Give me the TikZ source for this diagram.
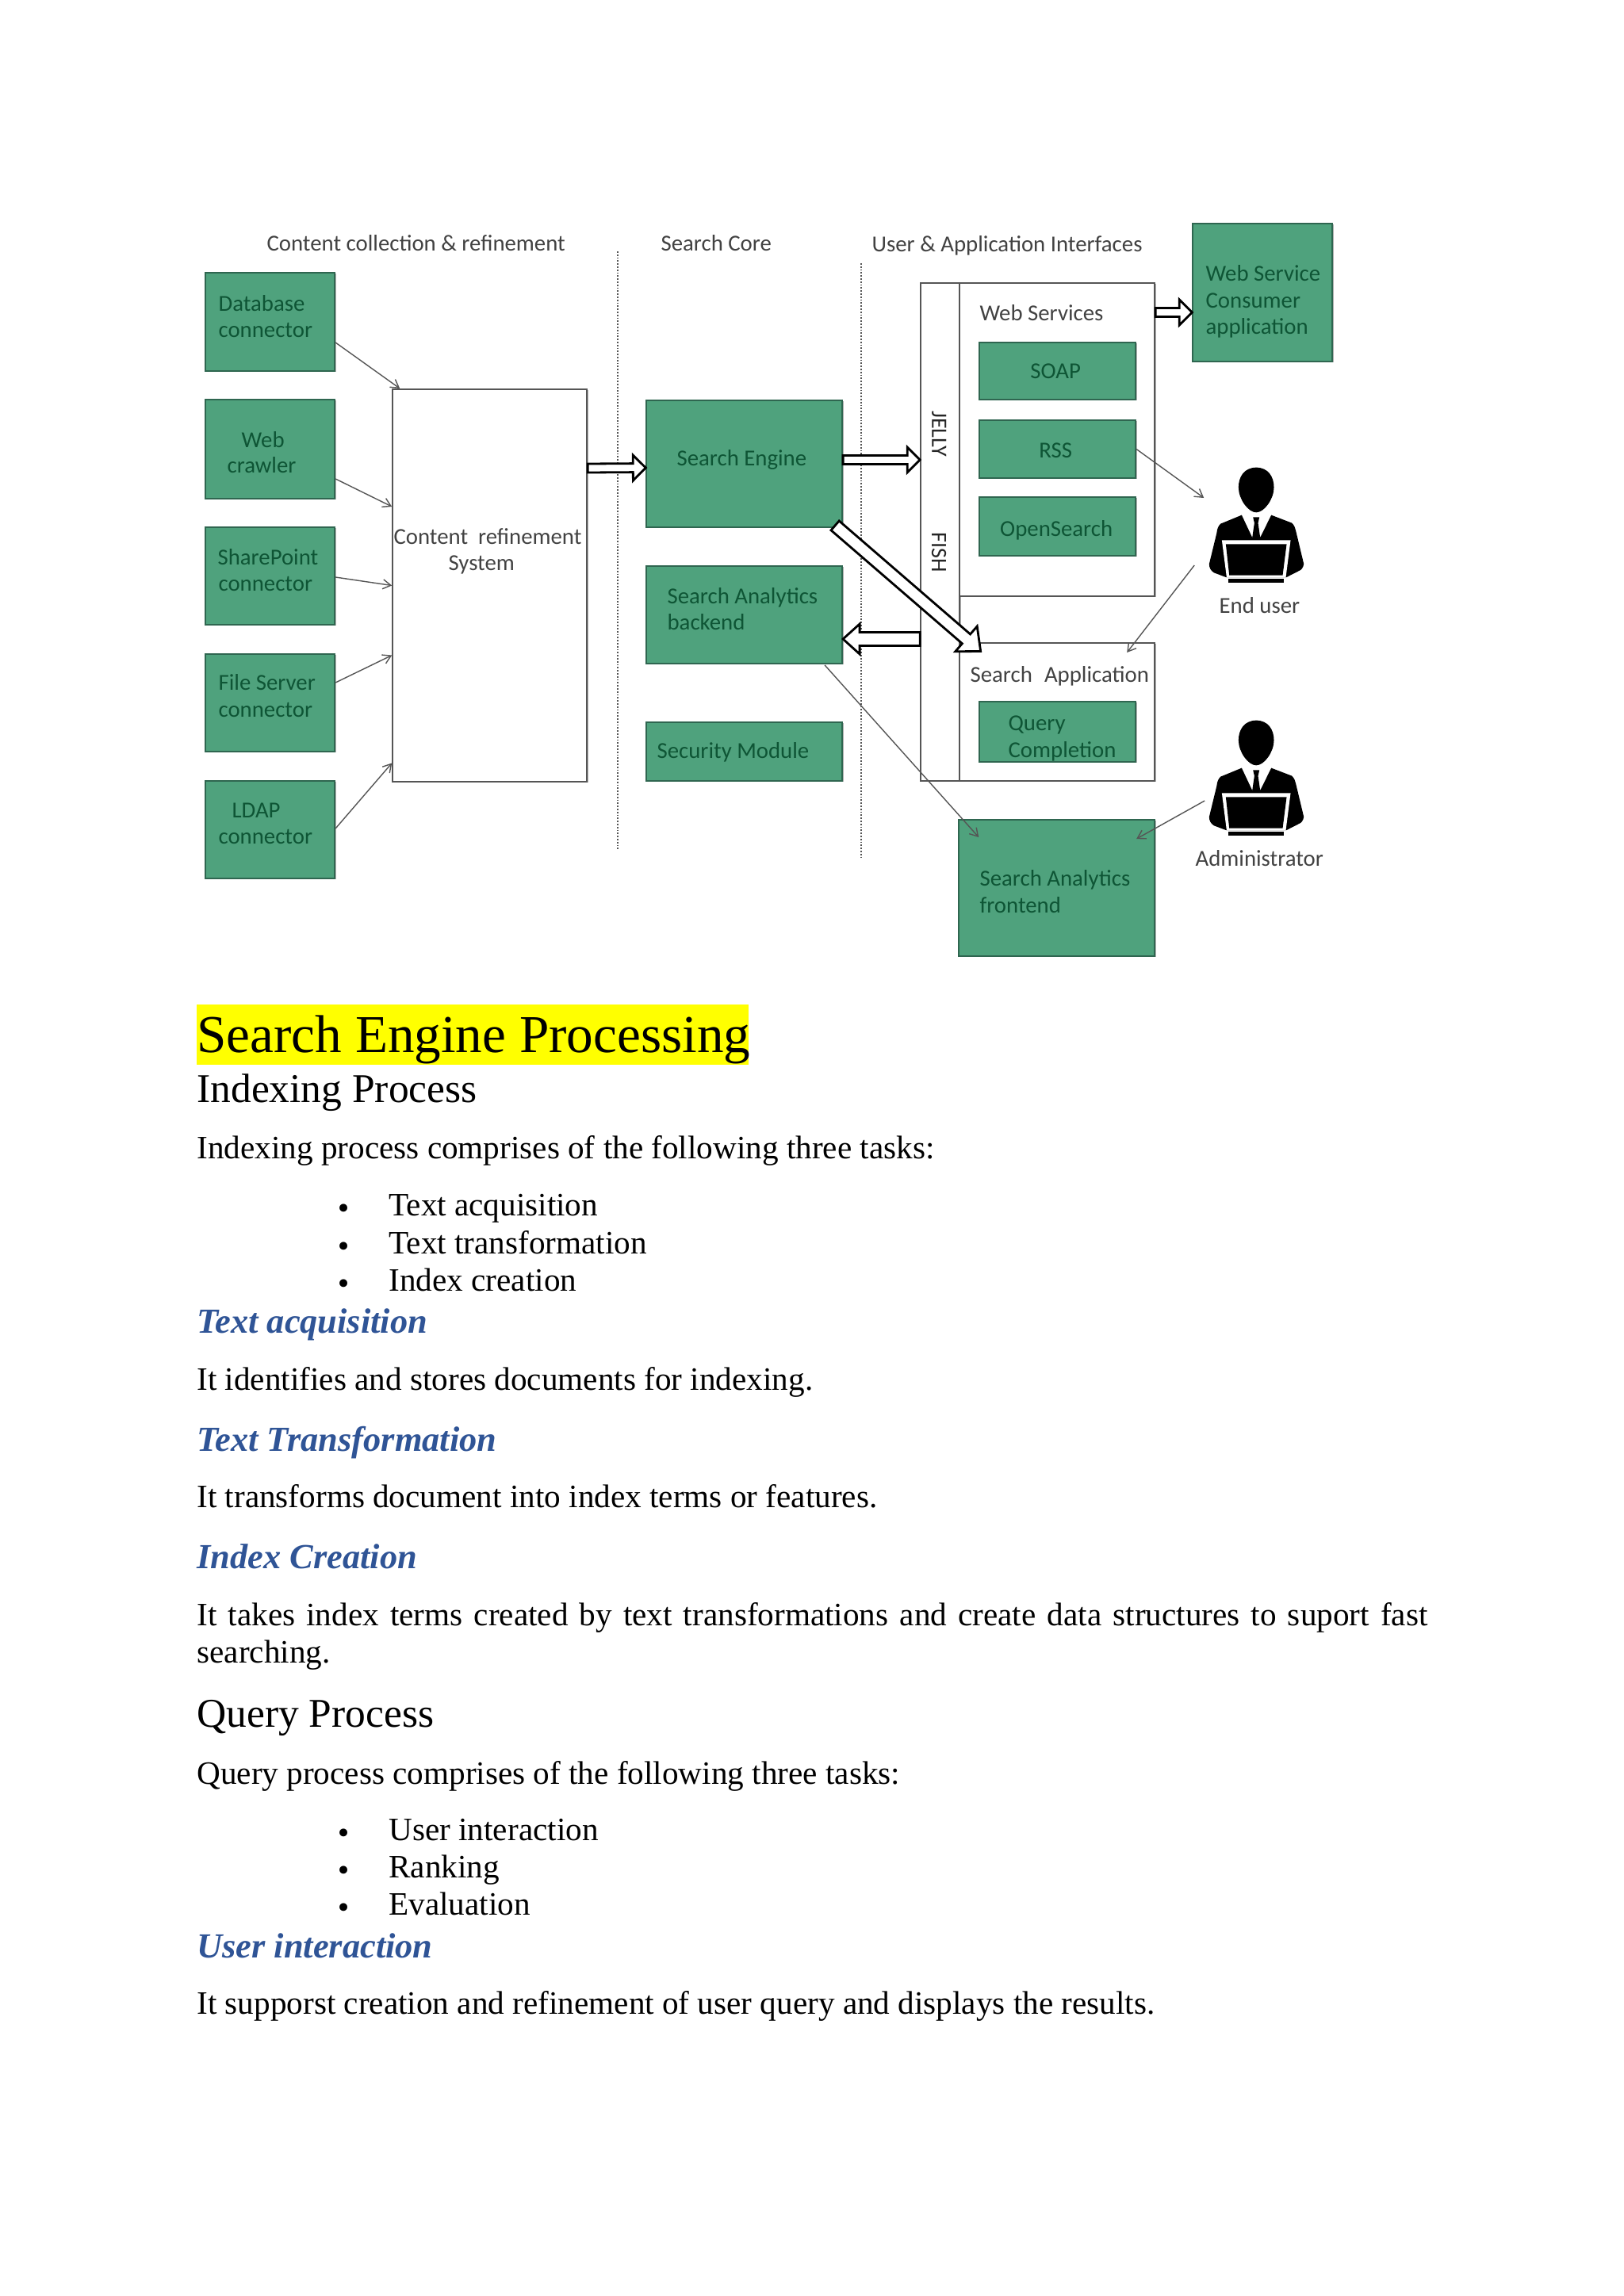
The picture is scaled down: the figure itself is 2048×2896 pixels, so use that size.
\documentclass[tikz,border=0pt]{standalone}
\usepackage{fontspec}
\setmainfont{Liberation Serif}
\newfontfamily\diagfont{Carlito}
\newfontfamily\dotfont{DejaVu Sans}
\usetikzlibrary{arrows.meta,calc,fit,shadows}
\definecolor{boxgreen}{HTML}{4FA27D}
\definecolor{boxedge}{HTML}{2F6650}
\definecolor{inktxt}{HTML}{0E5535}
\definecolor{graytxt}{HTML}{424242}
\definecolor{linegray}{HTML}{555555}
\definecolor{headblue}{HTML}{2F5496}
\definecolor{markyellow}{HTML}{FFFF00}
\tikzset{
  softshade/.style={drop shadow={shadow xshift=0.7pt,shadow yshift=-0.7pt,fill=black,opacity=0.3}},
  greenbox/.style={fill=boxgreen,draw=boxedge,line width=0.9pt,inner sep=0pt,softshade},
  whitebox/.style={fill=white,draw=linegray,line width=1pt,inner sep=0pt,softshade},
  dtxt/.style={anchor=base west,inner sep=0pt,xshift=-0.5pt,font=\diagfont\fontsize{14.4}{16}\selectfont,text=inktxt},
  ltxt/.style={anchor=base west,inner sep=0pt,xshift=-0.5pt,font=\diagfont\fontsize{14.4}{16}\selectfont,text=graytxt},
  ctxt/.style={dtxt,anchor=base},
  vtxt/.style={anchor=center,inner sep=0pt,rotate=-90,font=\diagfont\fontsize{14}{16}\selectfont,text=black!85},
  thin arrow/.style={draw=linegray,line width=0.7pt,-{Straight Barb[length=5pt,width=6pt]}},
  divider/.style={draw=linegray,line width=0.9pt,densely dotted},
  body/.style={anchor=base west,inner sep=0pt,font=\fontsize{20.6}{23.7}\selectfont},
  bulletmark/.style={anchor=base,inner sep=0pt,font=\dotfont\fontsize{17}{19}\selectfont},
  sub/.style={anchor=base west,inner sep=0pt,font=\fontsize{25.75}{30}\selectfont},
  bluehead/.style={anchor=base west,inner sep=0pt,font=\bfseries\itshape\fontsize{22.2}{26}\selectfont,text=headblue},
}
\newcommand{\boxat}[6]{\node[#1,fit={(#3,#4)(#5,#6)}] (#2) {};}
\newcommand{\hollowarrow}[5]{%
  \draw[fill=white,draw=black,line width=1.4pt,line join=miter]
    let \p1=(#1),\p2=(#2),\p3=($(\p2)-(\p1)$),\n1={atan2(\y3,\x3)},\n2={veclen(\x3,\y3)} in
    [shift={(\p1)},rotate=\n1]
    (0pt,#3) -- ({\n2-#5},#3) -- ({\n2-#5},#4) -- (\n2,0pt) -- ({\n2-#5},-#4) -- ({\n2-#5},-#3) -- (0pt,-#3) -- cycle;}
\newcommand{\personicon}[3]{%
  \coordinate (#1) at (#2,#3);
  \begin{scope}[shift={(#1)},xshift=-66.67pt,yshift=19.17pt,x=0.16667pt,y=-0.16667pt]
    \fill[black] (400,30) .. controls (445,30) and (467,65) .. (467,105) .. controls (467,150) and (430,200) .. (400,200) .. controls (370,200) and (333,150) .. (333,105) .. controls (333,65) and (355,30) .. (400,30) -- cycle;
    \fill[black] (345,210) -- (385,295) -- (393,240) -- (388,218) -- (412,218) -- (407,240) -- (415,295) -- (457,210) -- (535,240) .. controls (545,250) and (548,260) .. (550,270) -- (580,395) .. controls (578,410) and (570,418) .. (560,422) -- (515,445) -- (285,445) -- (240,428) .. controls (228,420) and (222,410) .. (222,395) -- (250,280) .. controls (252,260) and (258,250) .. (265,243) -- cycle;
    \fill[white] (270,305) -- (530,305) -- (512,445) -- (288,445) -- cycle;
    \fill[black] (285,320) -- (515,320) -- (500,438) -- (298,438) -- cycle;
    \fill[black] (295,450) -- (505,450) -- (505,465) -- (295,465) -- cycle;
  \end{scope}}
\begin{document}
\begin{tikzpicture}[x=0.5pt,y=-0.5pt]
\useasboundingbox (0,0) rectangle (2048,2896);
\fill[white] (0,0) rectangle (2048,2896);

\begin{scope}[xshift=0.6pt]
% dividers
\coordinate (d1a) at (778,317); \coordinate (d1b) at (778,1071);
\coordinate (d2a) at (1085,332); \coordinate (d2b) at (1085,1082);
\draw[divider] (d1a) -- (d1b);
\draw[divider] (d2a) -- (d2b);

% column headings
\node[ltxt] (h1) at (336,316) {Content collection \& refinement};
\node[ltxt] (h2) at (833,316) {Search Core};
\node[ltxt] (h3) at (1099,317) {User \& Application Interfaces};

% left sources
\boxat{greenbox}{db}{258}{344}{421}{468}
\boxat{greenbox}{web}{258}{504}{421}{629}
\boxat{greenbox}{sp}{258}{665}{421}{788}
\boxat{greenbox}{fs}{258}{825}{421}{948}
\boxat{greenbox}{ldap}{258}{985}{421}{1108}
\boxat{whitebox}{cr}{494}{491}{739}{986}

\node[dtxt] (tdb1) at (275,392) {Database};
\node[dtxt] (tdb2) at (275,425) {connector};
\node[dtxt] (tw1) at (304,564) {Web};
\node[dtxt] (tw2) at (286,596) {crawler};
\node[dtxt] (tsp1) at (274,712) {SharePoint};
\node[dtxt] (tsp2) at (275,745) {connector};
\node[dtxt] (tfs1) at (275,870) {File Server};
\node[dtxt] (tfs2) at (275,904) {connector};
\node[dtxt] (tl1) at (292,1031) {LDAP};
\node[dtxt] (tl2) at (275,1064) {connector};
\node[ltxt] (tcr1) at (496,686) {Content\hspace{0.45em}refinement};
\node[ltxt] (tcr2) at (565,719) {System};

% search core
\boxat{greenbox}{se}{814}{505}{1061}{665}
\boxat{greenbox}{ba}{814}{714}{1061}{837}
\boxat{greenbox}{sec}{814}{911}{1061}{985}
\node[dtxt] (tse) at (853,587) {Search Engine};
\node[dtxt] (tba1) at (841,761) {Search Analytics};
\node[dtxt] (tba2) at (841,794) {backend};
\node[dtxt] (tsec) at (828,956) {Security Module};

% interfaces
\boxat{whitebox}{col}{1160}{357}{1209}{985}
\boxat{whitebox}{ws}{1209}{357}{1455}{752}
\boxat{whitebox}{sa}{1209}{811}{1455}{985}
\boxat{greenbox}{soap}{1234}{432}{1431}{504}
\boxat{greenbox}{rss}{1234}{530}{1431}{603}
\boxat{greenbox}{os}{1234}{627}{1431}{701}
\boxat{greenbox}{qc}{1234}{885}{1431}{961}
\boxat{greenbox}{wsc}{1503}{282}{1679}{456}
\boxat{greenbox}{fe}{1208}{1034}{1455}{1206}
\node[ltxt] (tws) at (1235,404) {Web Services};
\node[ctxt] (tsoap) at (1331,477) {SOAP};
\node[ctxt] (trss) at (1331,577) {RSS};
\node[ctxt] (tos) at (1332,676) {OpenSearch};
\node[vtxt] (tj) at (1183,547) {JELLY};
\node[vtxt] (tf) at (1183,697) {FISH};
\node[ltxt] (tsa) at (1223,860) {Search\hspace{0.3em} Application};
\node[dtxt] (tq1) at (1271,921) {Query};
\node[dtxt] (tq2) at (1271,955) {Completion};
\node[dtxt] (twc1) at (1520,354) {Web Service};
\node[dtxt] (twc2) at (1520,388) {Consumer};
\node[dtxt] (twc3) at (1520,421) {application};
\node[dtxt] (tfe1) at (1235,1117) {Search Analytics};
\node[dtxt] (tfe2) at (1235,1151) {frontend};

% people
\personicon{enduser}{1583}{618}
\personicon{admin}{1583}{937}
\node[ltxt] (teu) at (1537,773) {End user};
\node[ltxt] (tad) at (1507,1092) {Administrator};

% thin connectors
\draw[thin arrow] ([yshift=-13pt]db.east) -- ([xshift=5pt]cr.north west);
\draw[thin arrow] ([yshift=-18.75pt]web.east) -- ([yshift=49.75pt]cr.west);
\draw[thin arrow] ([yshift=-0.75pt]sp.east) -- (cr.west);
\draw[thin arrow] ([yshift=12.75pt]fs.east) -- ([yshift=-44pt]cr.west);
\draw[thin arrow] ([yshift=0.75pt]ldap.east) -- ([yshift=-112pt]cr.west);
\draw[thin arrow] (rss.east) -- ([xshift=-33pt,yshift=-5pt]enduser);
\draw[thin arrow] ([xshift=-39pt,yshift=-47.5pt]enduser) -- ([xshift=-18pt,yshift=-6.5pt]sa.north east);
\draw[thin arrow] ([xshift=-11.5pt,yshift=-0.5pt]ba.south east) -- ([xshift=13pt,yshift=-11.5pt]fe.north west);
\draw[thin arrow] ([xshift=-32.5pt,yshift=-36.5pt]admin) -- ([xshift=-12pt,yshift=-12.5pt]fe.north east);

% hollow connectors
\hollowarrow{[yshift=74pt]cr.east}{[yshift=-2.5pt]se.west}{2.75pt}{8pt}{8pt}
\hollowarrow{[yshift=2.5pt]se.east}{[yshift=45.5pt]col.west}{2.75pt}{8pt}{8pt}
\hollowarrow{[yshift=-67.5pt]col.west}{[yshift=-15.25pt]ba.east}{4.25pt}{9.5pt}{10.5pt}
\hollowarrow{[yshift=80.25pt]ws.east}{[yshift=-12.5pt]wsc.west}{2.75pt}{8pt}{8pt}
\hollowarrow{[xshift=-5pt,yshift=1.5pt]se.south east}{[xshift=14pt,yshift=-6pt]sa.north west}{3.9pt}{10.5pt}{12pt}
\end{scope}

% document text
\fill[markyellow] (248,1267) rectangle (944,1343);
\node[anchor=base west,inner sep=0pt,font=\fontsize{33.6}{38}\selectfont] (title) at (248,1327) {Search Engine Processing};
\node[sub] (ip) at (248,1390) {Indexing Process};
\node[body] (ip1) at (248,1461) {Indexing process comprises of the following three tasks:};
\node[bulletmark] (b1) at (434,1536) {•};
\node[bulletmark] (b2) at (434,1584) {•};
\node[bulletmark] (b3) at (434,1631) {•};
\node[body] (l1) at (490,1533) {Text acquisition};
\node[body] (l2) at (490,1581) {Text transformation};
\node[body] (l3) at (490,1628) {Index creation};
\node[bluehead] (bh1) at (248,1681) {Text acquisition};
\node[body] (p1) at (248,1753) {It identifies and stores documents for indexing.};
\node[bluehead] (bh2) at (248,1830) {Text Transformation};
\node[body] (p2) at (248,1901) {It transforms document into index terms or features.};
\node[bluehead] (bh3) at (248,1978) {Index Creation};
\node[body,text width=776pt,align=justify] (p3) at (248,2050) {It takes index terms created by text transformations and create data structures to suport fast searching.};
\node[sub] (qp) at (248,2178) {Query Process};
\node[body] (qp1) at (248,2250) {Query process comprises of the following three tasks:};
\node[bulletmark] (b4) at (434,2324) {•};
\node[bulletmark] (b5) at (434,2371) {•};
\node[bulletmark] (b6) at (434,2418) {•};
\node[body] (l4) at (490,2321) {User interaction};
\node[body] (l5) at (490,2368) {Ranking};
\node[body] (l6) at (490,2415) {Evaluation};
\node[bluehead] (bh4) at (248,2469) {User interaction};
\node[body] (p4) at (248,2540) {It supporst creation and refinement of user query and displays the results.};
\end{tikzpicture}
\end{document}
